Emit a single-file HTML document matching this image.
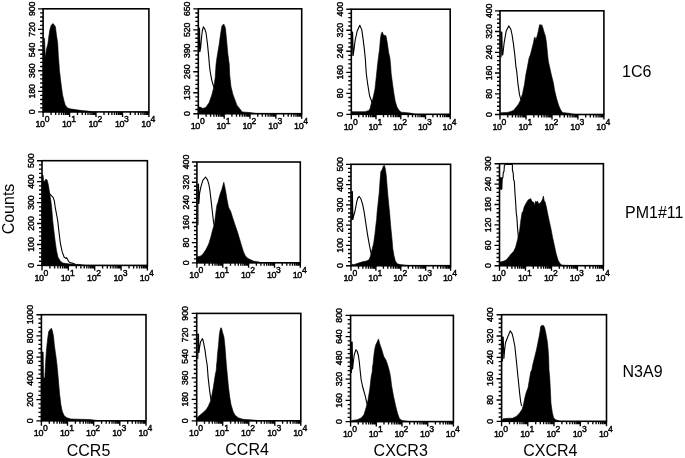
<!DOCTYPE html><html><head><meta charset="utf-8"><style>html,body{margin:0;padding:0;background:#fff;}svg{display:block;filter:blur(0.25px);}text{font-family:"Liberation Sans",Arial,sans-serif;fill:#000;}</style></head><body>
<svg width="685" height="458" viewBox="0 0 685 458">
<g><polygon points="43.1,111.9 43.1,38 44.6,38.5 45.2,58 46.5,49 47.9,43.8 48.8,36.6 49.8,30.1 51.1,25.5 52.8,23.5 54.2,24.8 55.4,26.8 56.4,34.6 57.7,43.2 58.3,55 59.5,70.7 60.6,80 61.6,88 62.6,95 64.3,102 65.3,105.2 67.3,107.8 70,108.8 75,109.6 82,110.6 88,111.1 92,111.9" fill="#000" stroke="#000" stroke-width="0.6" stroke-linejoin="round"/><rect x="43.1" y="8.8" width="105.8" height="103.1" fill="none" stroke="#000" stroke-width="1.6"/><path d="M43.1 111.9h-5M43.1 107.8h-3M43.1 103.7h-3M43.1 99.5h-3M43.1 95.4h-3M43.1 91.3h-5M43.1 87.2h-3M43.1 83h-3M43.1 78.9h-3M43.1 74.8h-3M43.1 70.7h-5M43.1 66.5h-3M43.1 62.4h-3M43.1 58.3h-3M43.1 54.2h-3M43.1 50h-5M43.1 45.9h-3M43.1 41.8h-3M43.1 37.7h-3M43.1 33.5h-3M43.1 29.4h-5M43.1 25.3h-3M43.1 21.2h-3M43.1 17h-3M43.1 12.9h-3M43.1 8.8h-5M43.1 111.9v5M51.1 111.9v3M55.7 111.9v3M59 111.9v3M61.6 111.9v3M63.7 111.9v3M65.5 111.9v3M67 111.9v3M68.3 111.9v3M69.6 111.9v5M77.5 111.9v3M82.2 111.9v3M85.5 111.9v3M88 111.9v3M90.1 111.9v3M91.9 111.9v3M93.4 111.9v3M94.8 111.9v3M96 111.9v5M104 111.9v3M108.6 111.9v3M111.9 111.9v3M114.5 111.9v3M116.6 111.9v3M118.4 111.9v3M119.9 111.9v3M121.2 111.9v3M122.5 111.9v5M130.4 111.9v3M135.1 111.9v3M138.4 111.9v3M140.9 111.9v3M143 111.9v3M144.8 111.9v3M146.3 111.9v3M147.7 111.9v3M148.9 111.9v5" stroke="#000" stroke-width="1.35" fill="none"/><text transform="translate(31.7 111.9) rotate(-90)" x="0" y="3.1" text-anchor="middle" font-size="8.7" stroke="#000" stroke-width="0.42">0</text><text transform="translate(31.7 91.3) rotate(-90)" x="0" y="3.1" text-anchor="middle" font-size="8.7" stroke="#000" stroke-width="0.42">180</text><text transform="translate(31.7 70.7) rotate(-90)" x="0" y="3.1" text-anchor="middle" font-size="8.7" stroke="#000" stroke-width="0.42">360</text><text transform="translate(31.7 50) rotate(-90)" x="0" y="3.1" text-anchor="middle" font-size="8.7" stroke="#000" stroke-width="0.42">540</text><text transform="translate(31.7 29.4) rotate(-90)" x="0" y="3.1" text-anchor="middle" font-size="8.7" stroke="#000" stroke-width="0.42">720</text><text transform="translate(31.7 8.8) rotate(-90)" x="0" y="3.1" text-anchor="middle" font-size="8.7" stroke="#000" stroke-width="0.42">900</text><text x="42.3" y="127.1" font-size="9" text-anchor="middle" letter-spacing="-0.4" stroke="#000" stroke-width="0.42">10<tspan font-size="8.6" dy="-5">0</tspan></text><text x="68.8" y="127.1" font-size="9" text-anchor="middle" letter-spacing="-0.4" stroke="#000" stroke-width="0.42">10<tspan font-size="8.6" dy="-5">1</tspan></text><text x="95.2" y="127.1" font-size="9" text-anchor="middle" letter-spacing="-0.4" stroke="#000" stroke-width="0.42">10<tspan font-size="8.6" dy="-5">2</tspan></text><text x="121.7" y="127.1" font-size="9" text-anchor="middle" letter-spacing="-0.4" stroke="#000" stroke-width="0.42">10<tspan font-size="8.6" dy="-5">3</tspan></text><text x="148.1" y="127.1" font-size="9" text-anchor="middle" letter-spacing="-0.4" stroke="#000" stroke-width="0.42">10<tspan font-size="8.6" dy="-5">4</tspan></text></g>
<g><polygon points="198.3,113.7 198.3,107 200.2,107.1 202.9,108.5 205.9,107.3 209.2,102.6 211.9,94.7 213.9,86.8 215.2,77.7 216,65 216.9,58 219.2,44.3 220.6,33.8 221.9,26 223.8,24 225.4,27.9 226.5,39 227.8,53.5 228.4,58 229.3,65 229.7,75 231,86.8 233,94.7 235,100 236.9,105.2 239.6,108.5 242.2,111.9 250,112.6 258,113.7" fill="#000" stroke="#000" stroke-width="0.6" stroke-linejoin="round"/><polyline points="198.9,52 198.9,28 199.5,28 200,51.5 200.6,48 201.5,38 202.3,31 203.4,26.9 204.8,29 206.1,33.2 207.5,44.3 208.8,57.4 209.4,65 210.1,71.1 211.8,80.3 213.3,85.5 214.3,88" fill="none" stroke="#000" stroke-width="1.1" stroke-linejoin="round"/><rect x="198.3" y="8.8" width="103.4" height="104.9" fill="none" stroke="#000" stroke-width="1.6"/><path d="M198.3 113.7h-5M198.3 109.5h-3M198.3 105.3h-3M198.3 101.1h-3M198.3 96.9h-3M198.3 92.7h-5M198.3 88.5h-3M198.3 84.3h-3M198.3 80.1h-3M198.3 75.9h-3M198.3 71.7h-5M198.3 67.5h-3M198.3 63.3h-3M198.3 59.2h-3M198.3 55h-3M198.3 50.8h-5M198.3 46.6h-3M198.3 42.4h-3M198.3 38.2h-3M198.3 34h-3M198.3 29.8h-5M198.3 25.6h-3M198.3 21.4h-3M198.3 17.2h-3M198.3 13h-3M198.3 8.8h-5M198.3 113.7v5M206.1 113.7v3M210.6 113.7v3M213.9 113.7v3M216.4 113.7v3M218.4 113.7v3M220.1 113.7v3M221.6 113.7v3M223 113.7v3M224.2 113.7v5M231.9 113.7v3M236.5 113.7v3M239.7 113.7v3M242.2 113.7v3M244.3 113.7v3M246 113.7v3M247.5 113.7v3M248.8 113.7v3M250 113.7v5M257.8 113.7v3M262.3 113.7v3M265.6 113.7v3M268.1 113.7v3M270.1 113.7v3M271.8 113.7v3M273.3 113.7v3M274.7 113.7v3M275.9 113.7v5M283.6 113.7v3M288.2 113.7v3M291.4 113.7v3M293.9 113.7v3M296 113.7v3M297.7 113.7v3M299.2 113.7v3M300.5 113.7v3M301.7 113.7v5" stroke="#000" stroke-width="1.35" fill="none"/><text transform="translate(186.9 113.7) rotate(-90)" x="0" y="3.1" text-anchor="middle" font-size="8.7" stroke="#000" stroke-width="0.42">0</text><text transform="translate(186.9 92.7) rotate(-90)" x="0" y="3.1" text-anchor="middle" font-size="8.7" stroke="#000" stroke-width="0.42">130</text><text transform="translate(186.9 71.7) rotate(-90)" x="0" y="3.1" text-anchor="middle" font-size="8.7" stroke="#000" stroke-width="0.42">260</text><text transform="translate(186.9 50.8) rotate(-90)" x="0" y="3.1" text-anchor="middle" font-size="8.7" stroke="#000" stroke-width="0.42">390</text><text transform="translate(186.9 29.8) rotate(-90)" x="0" y="3.1" text-anchor="middle" font-size="8.7" stroke="#000" stroke-width="0.42">520</text><text transform="translate(186.9 8.8) rotate(-90)" x="0" y="3.1" text-anchor="middle" font-size="8.7" stroke="#000" stroke-width="0.42">650</text><text x="197.5" y="128.9" font-size="9" text-anchor="middle" letter-spacing="-0.4" stroke="#000" stroke-width="0.42">10<tspan font-size="8.6" dy="-5">0</tspan></text><text x="223.3" y="128.9" font-size="9" text-anchor="middle" letter-spacing="-0.4" stroke="#000" stroke-width="0.42">10<tspan font-size="8.6" dy="-5">1</tspan></text><text x="249.2" y="128.9" font-size="9" text-anchor="middle" letter-spacing="-0.4" stroke="#000" stroke-width="0.42">10<tspan font-size="8.6" dy="-5">2</tspan></text><text x="275.1" y="128.9" font-size="9" text-anchor="middle" letter-spacing="-0.4" stroke="#000" stroke-width="0.42">10<tspan font-size="8.6" dy="-5">3</tspan></text><text x="300.9" y="128.9" font-size="9" text-anchor="middle" letter-spacing="-0.4" stroke="#000" stroke-width="0.42">10<tspan font-size="8.6" dy="-5">4</tspan></text></g>
<g><polygon points="351.3,114.3 351.3,111.7 365,111.7 369,110.4 370.3,107.8 371.3,103.2 372.9,98.6 374.9,89.5 376.2,77.7 377.5,65 378.6,56 379.5,49.6 380.5,37.8 381.4,33.2 382.3,31.9 383.4,35.1 386,35.8 387.3,43 388.6,52.2 389.9,58 390.6,65 391.2,73.7 392.6,84.2 393.9,93.4 395.2,101.2 396.8,106.5 398.5,109.8 401.1,112.2 410,113 415,114.3" fill="#000" stroke="#000" stroke-width="0.6" stroke-linejoin="round"/><polyline points="351.8,56 351.8,32 352.6,32 353.2,55.4 353.9,50.1 355.2,40 357.2,31 359.8,25.2 361.8,29.9 363.1,39.1 364.4,49.6 365.4,60 366.3,73.7 367.7,84.2 369.6,96 371.6,101.2 372.5,103" fill="none" stroke="#000" stroke-width="1.1" stroke-linejoin="round"/><rect x="351.3" y="9.2" width="98.9" height="105.1" fill="none" stroke="#000" stroke-width="1.6"/><path d="M351.3 114.3h-5M351.3 110.1h-3M351.3 105.9h-3M351.3 101.7h-3M351.3 97.5h-3M351.3 93.3h-5M351.3 89.1h-3M351.3 84.9h-3M351.3 80.7h-3M351.3 76.5h-3M351.3 72.3h-5M351.3 68.1h-3M351.3 63.9h-3M351.3 59.6h-3M351.3 55.4h-3M351.3 51.2h-5M351.3 47h-3M351.3 42.8h-3M351.3 38.6h-3M351.3 34.4h-3M351.3 30.2h-5M351.3 26h-3M351.3 21.8h-3M351.3 17.6h-3M351.3 13.4h-3M351.3 9.2h-5M351.3 114.3v5M358.7 114.3v3M363.1 114.3v3M366.2 114.3v3M368.6 114.3v3M370.5 114.3v3M372.2 114.3v3M373.6 114.3v3M374.9 114.3v3M376 114.3v5M383.5 114.3v3M387.8 114.3v3M390.9 114.3v3M393.3 114.3v3M395.3 114.3v3M396.9 114.3v3M398.4 114.3v3M399.6 114.3v3M400.8 114.3v5M408.2 114.3v3M412.5 114.3v3M415.6 114.3v3M418 114.3v3M420 114.3v3M421.6 114.3v3M423.1 114.3v3M424.3 114.3v3M425.5 114.3v5M432.9 114.3v3M437.3 114.3v3M440.4 114.3v3M442.8 114.3v3M444.7 114.3v3M446.4 114.3v3M447.8 114.3v3M449.1 114.3v3M450.2 114.3v5" stroke="#000" stroke-width="1.35" fill="none"/><text transform="translate(339.9 114.3) rotate(-90)" x="0" y="3.1" text-anchor="middle" font-size="8.7" stroke="#000" stroke-width="0.42">0</text><text transform="translate(339.9 93.3) rotate(-90)" x="0" y="3.1" text-anchor="middle" font-size="8.7" stroke="#000" stroke-width="0.42">80</text><text transform="translate(339.9 72.3) rotate(-90)" x="0" y="3.1" text-anchor="middle" font-size="8.7" stroke="#000" stroke-width="0.42">160</text><text transform="translate(339.9 51.2) rotate(-90)" x="0" y="3.1" text-anchor="middle" font-size="8.7" stroke="#000" stroke-width="0.42">240</text><text transform="translate(339.9 30.2) rotate(-90)" x="0" y="3.1" text-anchor="middle" font-size="8.7" stroke="#000" stroke-width="0.42">320</text><text transform="translate(339.9 9.2) rotate(-90)" x="0" y="3.1" text-anchor="middle" font-size="8.7" stroke="#000" stroke-width="0.42">400</text><text x="350.5" y="129.5" font-size="9" text-anchor="middle" letter-spacing="-0.4" stroke="#000" stroke-width="0.42">10<tspan font-size="8.6" dy="-5">0</tspan></text><text x="375.2" y="129.5" font-size="9" text-anchor="middle" letter-spacing="-0.4" stroke="#000" stroke-width="0.42">10<tspan font-size="8.6" dy="-5">1</tspan></text><text x="399.9" y="129.5" font-size="9" text-anchor="middle" letter-spacing="-0.4" stroke="#000" stroke-width="0.42">10<tspan font-size="8.6" dy="-5">2</tspan></text><text x="424.7" y="129.5" font-size="9" text-anchor="middle" letter-spacing="-0.4" stroke="#000" stroke-width="0.42">10<tspan font-size="8.6" dy="-5">3</tspan></text><text x="449.4" y="129.5" font-size="9" text-anchor="middle" letter-spacing="-0.4" stroke="#000" stroke-width="0.42">10<tspan font-size="8.6" dy="-5">4</tspan></text></g>
<g><polygon points="500,114.5 500.9,112.8 507.5,112.4 510.1,111.7 513.4,110.4 516.7,106.5 518.6,103.9 520.6,100 522.6,93.4 524.5,84.2 525.8,75 527.1,68.5 529.1,58 530.4,54.8 531.7,49.6 533.4,43 534.4,37.8 535,37.1 535.7,39.7 537,36.5 538.3,31.2 539.2,26.6 539.6,24.7 540.6,24.7 540.9,26 541.8,24.7 542.9,27.9 544.2,32.5 545.5,36.5 546.5,43 547.5,53.5 548.3,61 549.4,65.9 551.4,75 553.4,82.9 554.7,90.8 556.6,98.6 558.6,105.2 560.6,109.8 562.5,112.6 570,113.4 575,114.5" fill="#000" stroke="#000" stroke-width="0.6" stroke-linejoin="round"/><polyline points="501,57.4 501,32 501.8,32 502.3,55 502.8,54.7 504.2,42.3 506.2,31.1 508.8,25.9 510.8,29.2 512.1,35 513.4,43.6 514.7,54.1 516,67.2 516.7,71.1 518,84.2 519.5,94.7 520.6,98.6 521.5,100" fill="none" stroke="#000" stroke-width="1.1" stroke-linejoin="round"/><rect x="500" y="10.8" width="103.9" height="103.7" fill="none" stroke="#000" stroke-width="1.6"/><path d="M500 114.5h-5M500 110.4h-3M500 106.2h-3M500 102.1h-3M500 97.9h-3M500 93.8h-5M500 89.6h-3M500 85.5h-3M500 81.3h-3M500 77.2h-3M500 73h-5M500 68.9h-3M500 64.7h-3M500 60.6h-3M500 56.4h-3M500 52.3h-5M500 48.1h-3M500 44h-3M500 39.8h-3M500 35.7h-3M500 31.5h-5M500 27.4h-3M500 23.2h-3M500 19.1h-3M500 14.9h-3M500 10.8h-5M500 114.5v5M507.8 114.5v3M512.4 114.5v3M515.6 114.5v3M518.2 114.5v3M520.2 114.5v3M522 114.5v3M523.5 114.5v3M524.8 114.5v3M526 114.5v5M533.8 114.5v3M538.4 114.5v3M541.6 114.5v3M544.1 114.5v3M546.2 114.5v3M547.9 114.5v3M549.4 114.5v3M550.8 114.5v3M552 114.5v5M559.8 114.5v3M564.3 114.5v3M567.6 114.5v3M570.1 114.5v3M572.2 114.5v3M573.9 114.5v3M575.4 114.5v3M576.7 114.5v3M577.9 114.5v5M585.7 114.5v3M590.3 114.5v3M593.6 114.5v3M596.1 114.5v3M598.1 114.5v3M599.9 114.5v3M601.4 114.5v3M602.7 114.5v3M603.9 114.5v5" stroke="#000" stroke-width="1.35" fill="none"/><text transform="translate(488.6 114.5) rotate(-90)" x="0" y="3.1" text-anchor="middle" font-size="8.7" stroke="#000" stroke-width="0.42">0</text><text transform="translate(488.6 93.8) rotate(-90)" x="0" y="3.1" text-anchor="middle" font-size="8.7" stroke="#000" stroke-width="0.42">80</text><text transform="translate(488.6 73) rotate(-90)" x="0" y="3.1" text-anchor="middle" font-size="8.7" stroke="#000" stroke-width="0.42">160</text><text transform="translate(488.6 52.3) rotate(-90)" x="0" y="3.1" text-anchor="middle" font-size="8.7" stroke="#000" stroke-width="0.42">240</text><text transform="translate(488.6 31.5) rotate(-90)" x="0" y="3.1" text-anchor="middle" font-size="8.7" stroke="#000" stroke-width="0.42">320</text><text transform="translate(488.6 10.8) rotate(-90)" x="0" y="3.1" text-anchor="middle" font-size="8.7" stroke="#000" stroke-width="0.42">400</text><text x="499.2" y="129.7" font-size="9" text-anchor="middle" letter-spacing="-0.4" stroke="#000" stroke-width="0.42">10<tspan font-size="8.6" dy="-5">0</tspan></text><text x="525.2" y="129.7" font-size="9" text-anchor="middle" letter-spacing="-0.4" stroke="#000" stroke-width="0.42">10<tspan font-size="8.6" dy="-5">1</tspan></text><text x="551.2" y="129.7" font-size="9" text-anchor="middle" letter-spacing="-0.4" stroke="#000" stroke-width="0.42">10<tspan font-size="8.6" dy="-5">2</tspan></text><text x="577.1" y="129.7" font-size="9" text-anchor="middle" letter-spacing="-0.4" stroke="#000" stroke-width="0.42">10<tspan font-size="8.6" dy="-5">3</tspan></text><text x="603.1" y="129.7" font-size="9" text-anchor="middle" letter-spacing="-0.4" stroke="#000" stroke-width="0.42">10<tspan font-size="8.6" dy="-5">4</tspan></text></g>
<g><polygon points="42,265.4 42,175 43,175 43.9,182.2 45.2,180.3 46.1,179 47.2,180.3 48.2,184.2 49.1,189.5 50.1,196 51.1,202.6 51.9,210.4 52.7,220.5 53.9,231 55.2,241.5 56.5,250.6 58,257.2 60.3,261.1 62.9,263.1 69.5,263.9 80,264.6 85,265.4" fill="#000" stroke="#000" stroke-width="0.6" stroke-linejoin="round"/><polyline points="49.5,193.5 51.1,195.4 53.1,197.3 54.4,201.2 55.3,207.8 56.3,213 57.7,220.5 59,232.3 60.3,242.8 62.2,251.9 64.2,257.2 65.5,258.3 66.5,257.6 67.5,259.3 68.5,261.3 70,262.6 74.7,263.7" fill="none" stroke="#000" stroke-width="1.1" stroke-linejoin="round"/><rect x="42" y="160.7" width="105.4" height="104.7" fill="none" stroke="#000" stroke-width="1.6"/><path d="M42 265.4h-5M42 261.2h-3M42 257h-3M42 252.8h-3M42 248.6h-3M42 244.5h-5M42 240.3h-3M42 236.1h-3M42 231.9h-3M42 227.7h-3M42 223.5h-5M42 219.3h-3M42 215.1h-3M42 211h-3M42 206.8h-3M42 202.6h-5M42 198.4h-3M42 194.2h-3M42 190h-3M42 185.8h-3M42 181.6h-5M42 177.5h-3M42 173.3h-3M42 169.1h-3M42 164.9h-3M42 160.7h-5M42 265.4v5M49.9 265.4v3M54.6 265.4v3M57.9 265.4v3M60.4 265.4v3M62.5 265.4v3M64.3 265.4v3M65.8 265.4v3M67.1 265.4v3M68.3 265.4v5M76.3 265.4v3M80.9 265.4v3M84.2 265.4v3M86.8 265.4v3M88.9 265.4v3M90.6 265.4v3M92.1 265.4v3M93.5 265.4v3M94.7 265.4v5M102.6 265.4v3M107.3 265.4v3M110.6 265.4v3M113.1 265.4v3M115.2 265.4v3M117 265.4v3M118.5 265.4v3M119.8 265.4v3M121.1 265.4v5M129 265.4v3M133.6 265.4v3M136.9 265.4v3M139.5 265.4v3M141.6 265.4v3M143.3 265.4v3M144.8 265.4v3M146.2 265.4v3M147.4 265.4v5" stroke="#000" stroke-width="1.35" fill="none"/><text transform="translate(30.6 265.4) rotate(-90)" x="0" y="3.1" text-anchor="middle" font-size="8.7" stroke="#000" stroke-width="0.42">0</text><text transform="translate(30.6 244.5) rotate(-90)" x="0" y="3.1" text-anchor="middle" font-size="8.7" stroke="#000" stroke-width="0.42">100</text><text transform="translate(30.6 223.5) rotate(-90)" x="0" y="3.1" text-anchor="middle" font-size="8.7" stroke="#000" stroke-width="0.42">200</text><text transform="translate(30.6 202.6) rotate(-90)" x="0" y="3.1" text-anchor="middle" font-size="8.7" stroke="#000" stroke-width="0.42">300</text><text transform="translate(30.6 181.6) rotate(-90)" x="0" y="3.1" text-anchor="middle" font-size="8.7" stroke="#000" stroke-width="0.42">400</text><text transform="translate(30.6 160.7) rotate(-90)" x="0" y="3.1" text-anchor="middle" font-size="8.7" stroke="#000" stroke-width="0.42">500</text><text x="41.2" y="280.6" font-size="9" text-anchor="middle" letter-spacing="-0.4" stroke="#000" stroke-width="0.42">10<tspan font-size="8.6" dy="-5">0</tspan></text><text x="67.5" y="280.6" font-size="9" text-anchor="middle" letter-spacing="-0.4" stroke="#000" stroke-width="0.42">10<tspan font-size="8.6" dy="-5">1</tspan></text><text x="93.9" y="280.6" font-size="9" text-anchor="middle" letter-spacing="-0.4" stroke="#000" stroke-width="0.42">10<tspan font-size="8.6" dy="-5">2</tspan></text><text x="120.3" y="280.6" font-size="9" text-anchor="middle" letter-spacing="-0.4" stroke="#000" stroke-width="0.42">10<tspan font-size="8.6" dy="-5">3</tspan></text><text x="146.6" y="280.6" font-size="9" text-anchor="middle" letter-spacing="-0.4" stroke="#000" stroke-width="0.42">10<tspan font-size="8.6" dy="-5">4</tspan></text></g>
<g><polygon points="196.9,262.8 196.9,257 198.9,256.5 200.9,255.9 203.5,253.2 206.1,249.3 208.7,244.1 210.7,237.5 212.7,229.7 214.6,223.1 215.9,212 216.9,205.2 217.9,202.6 219.2,197.3 220.5,192.7 221.8,189.5 222.9,185.5 223.8,182.2 224.7,186.2 225.8,192.1 227.1,199.9 228.4,206.5 229.7,210 230.4,210.4 232.3,216.6 234.9,224.4 237.6,232.3 239.5,238.8 241.5,245.4 243.5,251.9 245.4,255.9 248,258.5 250.7,259.8 253.8,261.2 258,261.8 262,262.8" fill="#000" stroke="#000" stroke-width="0.6" stroke-linejoin="round"/><polyline points="197.9,225 197.9,184 198.5,184 198.9,203.5 199.6,193.4 200.9,186.8 202.8,180.3 205.5,177 207.4,179.6 208.7,183.6 209.8,189.5 210.7,197.3 211.6,205.2 212.4,212 212.9,216.6 213.7,223.1 214.2,225" fill="none" stroke="#000" stroke-width="1.1" stroke-linejoin="round"/><rect x="196.9" y="162" width="103.4" height="100.8" fill="none" stroke="#000" stroke-width="1.6"/><path d="M196.9 262.8h-5M196.9 258.8h-3M196.9 254.7h-3M196.9 250.7h-3M196.9 246.7h-3M196.9 242.6h-5M196.9 238.6h-3M196.9 234.6h-3M196.9 230.5h-3M196.9 226.5h-3M196.9 222.5h-5M196.9 218.4h-3M196.9 214.4h-3M196.9 210.4h-3M196.9 206.4h-3M196.9 202.3h-5M196.9 198.3h-3M196.9 194.3h-3M196.9 190.2h-3M196.9 186.2h-3M196.9 182.2h-5M196.9 178.1h-3M196.9 174.1h-3M196.9 170.1h-3M196.9 166h-3M196.9 162h-5M196.9 262.8v5M204.7 262.8v3M209.2 262.8v3M212.5 262.8v3M215 262.8v3M217 262.8v3M218.7 262.8v3M220.2 262.8v3M221.6 262.8v3M222.8 262.8v5M230.5 262.8v3M235.1 262.8v3M238.3 262.8v3M240.8 262.8v3M242.9 262.8v3M244.6 262.8v3M246.1 262.8v3M247.4 262.8v3M248.6 262.8v5M256.4 262.8v3M260.9 262.8v3M264.2 262.8v3M266.7 262.8v3M268.7 262.8v3M270.4 262.8v3M271.9 262.8v3M273.3 262.8v3M274.5 262.8v5M282.2 262.8v3M286.8 262.8v3M290 262.8v3M292.5 262.8v3M294.6 262.8v3M296.3 262.8v3M297.8 262.8v3M299.1 262.8v3M300.3 262.8v5" stroke="#000" stroke-width="1.35" fill="none"/><text transform="translate(185.5 262.8) rotate(-90)" x="0" y="3.1" text-anchor="middle" font-size="8.7" stroke="#000" stroke-width="0.42">0</text><text transform="translate(185.5 242.6) rotate(-90)" x="0" y="3.1" text-anchor="middle" font-size="8.7" stroke="#000" stroke-width="0.42">80</text><text transform="translate(185.5 222.5) rotate(-90)" x="0" y="3.1" text-anchor="middle" font-size="8.7" stroke="#000" stroke-width="0.42">160</text><text transform="translate(185.5 202.3) rotate(-90)" x="0" y="3.1" text-anchor="middle" font-size="8.7" stroke="#000" stroke-width="0.42">240</text><text transform="translate(185.5 182.2) rotate(-90)" x="0" y="3.1" text-anchor="middle" font-size="8.7" stroke="#000" stroke-width="0.42">320</text><text transform="translate(185.5 162) rotate(-90)" x="0" y="3.1" text-anchor="middle" font-size="8.7" stroke="#000" stroke-width="0.42">400</text><text x="196.1" y="278" font-size="9" text-anchor="middle" letter-spacing="-0.4" stroke="#000" stroke-width="0.42">10<tspan font-size="8.6" dy="-5">0</tspan></text><text x="221.9" y="278" font-size="9" text-anchor="middle" letter-spacing="-0.4" stroke="#000" stroke-width="0.42">10<tspan font-size="8.6" dy="-5">1</tspan></text><text x="247.8" y="278" font-size="9" text-anchor="middle" letter-spacing="-0.4" stroke="#000" stroke-width="0.42">10<tspan font-size="8.6" dy="-5">2</tspan></text><text x="273.7" y="278" font-size="9" text-anchor="middle" letter-spacing="-0.4" stroke="#000" stroke-width="0.42">10<tspan font-size="8.6" dy="-5">3</tspan></text><text x="299.5" y="278" font-size="9" text-anchor="middle" letter-spacing="-0.4" stroke="#000" stroke-width="0.42">10<tspan font-size="8.6" dy="-5">4</tspan></text></g>
<g><polygon points="351,265.7 351.9,264.4 354.6,264.4 358.5,263.1 362.4,261.8 366.3,261.1 369,259.8 370.3,256.6 371.6,251.3 373.6,243.5 374.9,234.3 376.2,222.5 376.6,220 377.1,212.4 378.1,203.2 379.2,192.8 380.1,179.7 380.8,171.8 382.3,169.2 383.4,165.9 384.4,165.2 385.4,169.2 386.3,175.7 387.1,186.2 388,196.7 388.9,205.9 389.7,213.7 390.2,220 390.6,225.1 391.9,238.2 392.8,248.7 393.9,255.2 395.2,260.5 397.1,263.8 400.4,264.6 410,265.7" fill="#000" stroke="#000" stroke-width="0.6" stroke-linejoin="round"/><polyline points="351.8,220 351.8,191.5 352.4,191.5 352.9,219.4 353.9,215 354.9,211.5 356.8,201.6 357.8,198 359.3,196.5 361.1,199.3 362.7,204.6 364,211.1 365,217.7 365.7,222.5 367.7,235.6 369.6,246.1 370.9,252.6 371.5,254" fill="none" stroke="#000" stroke-width="1.1" stroke-linejoin="round"/><rect x="351" y="164.3" width="99.6" height="101.4" fill="none" stroke="#000" stroke-width="1.6"/><path d="M351 265.7h-5M351 261.6h-3M351 257.6h-3M351 253.5h-3M351 249.5h-3M351 245.4h-5M351 241.4h-3M351 237.3h-3M351 233.3h-3M351 229.2h-3M351 225.1h-5M351 221.1h-3M351 217h-3M351 213h-3M351 208.9h-3M351 204.9h-5M351 200.8h-3M351 196.7h-3M351 192.7h-3M351 188.6h-3M351 184.6h-5M351 180.5h-3M351 176.5h-3M351 172.4h-3M351 168.4h-3M351 164.3h-5M351 265.7v5M358.5 265.7v3M362.9 265.7v3M366 265.7v3M368.4 265.7v3M370.4 265.7v3M372 265.7v3M373.5 265.7v3M374.8 265.7v3M375.9 265.7v5M383.4 265.7v3M387.8 265.7v3M390.9 265.7v3M393.3 265.7v3M395.3 265.7v3M396.9 265.7v3M398.4 265.7v3M399.7 265.7v3M400.8 265.7v5M408.3 265.7v3M412.7 265.7v3M415.8 265.7v3M418.2 265.7v3M420.2 265.7v3M421.8 265.7v3M423.3 265.7v3M424.6 265.7v3M425.7 265.7v5M433.2 265.7v3M437.6 265.7v3M440.7 265.7v3M443.1 265.7v3M445.1 265.7v3M446.7 265.7v3M448.2 265.7v3M449.5 265.7v3M450.6 265.7v5" stroke="#000" stroke-width="1.35" fill="none"/><text transform="translate(339.6 265.7) rotate(-90)" x="0" y="3.1" text-anchor="middle" font-size="8.7" stroke="#000" stroke-width="0.42">0</text><text transform="translate(339.6 245.4) rotate(-90)" x="0" y="3.1" text-anchor="middle" font-size="8.7" stroke="#000" stroke-width="0.42">100</text><text transform="translate(339.6 225.1) rotate(-90)" x="0" y="3.1" text-anchor="middle" font-size="8.7" stroke="#000" stroke-width="0.42">200</text><text transform="translate(339.6 204.9) rotate(-90)" x="0" y="3.1" text-anchor="middle" font-size="8.7" stroke="#000" stroke-width="0.42">300</text><text transform="translate(339.6 184.6) rotate(-90)" x="0" y="3.1" text-anchor="middle" font-size="8.7" stroke="#000" stroke-width="0.42">400</text><text transform="translate(339.6 164.3) rotate(-90)" x="0" y="3.1" text-anchor="middle" font-size="8.7" stroke="#000" stroke-width="0.42">500</text><text x="350.2" y="280.9" font-size="9" text-anchor="middle" letter-spacing="-0.4" stroke="#000" stroke-width="0.42">10<tspan font-size="8.6" dy="-5">0</tspan></text><text x="375.1" y="280.9" font-size="9" text-anchor="middle" letter-spacing="-0.4" stroke="#000" stroke-width="0.42">10<tspan font-size="8.6" dy="-5">1</tspan></text><text x="400" y="280.9" font-size="9" text-anchor="middle" letter-spacing="-0.4" stroke="#000" stroke-width="0.42">10<tspan font-size="8.6" dy="-5">2</tspan></text><text x="424.9" y="280.9" font-size="9" text-anchor="middle" letter-spacing="-0.4" stroke="#000" stroke-width="0.42">10<tspan font-size="8.6" dy="-5">3</tspan></text><text x="449.8" y="280.9" font-size="9" text-anchor="middle" letter-spacing="-0.4" stroke="#000" stroke-width="0.42">10<tspan font-size="8.6" dy="-5">4</tspan></text></g>
<g><polygon points="499.5,265.7 499.5,262 501.2,261.8 503.9,261.1 506.5,259.8 509.1,256.5 511.1,253.9 513.7,251.3 515.6,247.3 517.6,239.5 519.6,230.3 520.9,219.9 522.2,212 522.8,212.4 524.1,207.1 526.1,203.2 528.1,199.9 529.4,199.3 530.7,198.6 531.6,200.6 532.6,201.9 534,202.6 534.6,205.8 535.5,201.2 536.6,201.9 537.6,201.2 538.5,203.8 539.8,203.2 541.2,201.9 542.5,199.3 543.4,196 544.2,200.6 545.1,201.9 546.4,207.1 547.7,213.7 549,219.9 551,229 552.5,236.9 554.2,244.7 556.2,253.9 558.2,260.4 560.1,263.7 562.1,265.2 570,265.7" fill="#000" stroke="#000" stroke-width="0.6" stroke-linejoin="round"/><polygon points="499.5,177.6 502.1,177.6 502.1,189 499.5,189" fill="#000" stroke="#000" stroke-width="0.6" stroke-linejoin="round"/><polyline points="501.2,190 501.7,183 502.1,179.1 502.9,177.6 503.3,172.2 504,171.5 504.4,165.3 505.2,164.4 512.4,164.4 512.4,170 513.2,173 513.6,179.8 514.3,181.4 514.7,188.2 515.1,195 515.7,203.2 516.2,212.4 516.9,217.6 517.6,229 518.5,238.2 519,240" fill="none" stroke="#000" stroke-width="1.1" stroke-linejoin="round"/><rect x="499.5" y="163.7" width="103.9" height="102" fill="none" stroke="#000" stroke-width="1.6"/><path d="M499.5 265.7h-5M499.5 261.6h-3M499.5 257.5h-3M499.5 253.5h-3M499.5 249.4h-3M499.5 245.3h-5M499.5 241.2h-3M499.5 237.1h-3M499.5 233.1h-3M499.5 229h-3M499.5 224.9h-5M499.5 220.8h-3M499.5 216.7h-3M499.5 212.7h-3M499.5 208.6h-3M499.5 204.5h-5M499.5 200.4h-3M499.5 196.3h-3M499.5 192.3h-3M499.5 188.2h-3M499.5 184.1h-5M499.5 180h-3M499.5 175.9h-3M499.5 171.9h-3M499.5 167.8h-3M499.5 163.7h-5M499.5 265.7v5M507.3 265.7v3M511.9 265.7v3M515.1 265.7v3M517.7 265.7v3M519.7 265.7v3M521.5 265.7v3M523 265.7v3M524.3 265.7v3M525.5 265.7v5M533.3 265.7v3M537.9 265.7v3M541.1 265.7v3M543.6 265.7v3M545.7 265.7v3M547.4 265.7v3M548.9 265.7v3M550.3 265.7v3M551.5 265.7v5M559.3 265.7v3M563.8 265.7v3M567.1 265.7v3M569.6 265.7v3M571.7 265.7v3M573.4 265.7v3M574.9 265.7v3M576.2 265.7v3M577.4 265.7v5M585.2 265.7v3M589.8 265.7v3M593.1 265.7v3M595.6 265.7v3M597.6 265.7v3M599.4 265.7v3M600.9 265.7v3M602.2 265.7v3M603.4 265.7v5" stroke="#000" stroke-width="1.35" fill="none"/><text transform="translate(488.1 265.7) rotate(-90)" x="0" y="3.1" text-anchor="middle" font-size="8.7" stroke="#000" stroke-width="0.42">0</text><text transform="translate(488.1 245.3) rotate(-90)" x="0" y="3.1" text-anchor="middle" font-size="8.7" stroke="#000" stroke-width="0.42">60</text><text transform="translate(488.1 224.9) rotate(-90)" x="0" y="3.1" text-anchor="middle" font-size="8.7" stroke="#000" stroke-width="0.42">120</text><text transform="translate(488.1 204.5) rotate(-90)" x="0" y="3.1" text-anchor="middle" font-size="8.7" stroke="#000" stroke-width="0.42">180</text><text transform="translate(488.1 184.1) rotate(-90)" x="0" y="3.1" text-anchor="middle" font-size="8.7" stroke="#000" stroke-width="0.42">240</text><text transform="translate(488.1 163.7) rotate(-90)" x="0" y="3.1" text-anchor="middle" font-size="8.7" stroke="#000" stroke-width="0.42">300</text><text x="498.7" y="280.9" font-size="9" text-anchor="middle" letter-spacing="-0.4" stroke="#000" stroke-width="0.42">10<tspan font-size="8.6" dy="-5">0</tspan></text><text x="524.7" y="280.9" font-size="9" text-anchor="middle" letter-spacing="-0.4" stroke="#000" stroke-width="0.42">10<tspan font-size="8.6" dy="-5">1</tspan></text><text x="550.7" y="280.9" font-size="9" text-anchor="middle" letter-spacing="-0.4" stroke="#000" stroke-width="0.42">10<tspan font-size="8.6" dy="-5">2</tspan></text><text x="576.6" y="280.9" font-size="9" text-anchor="middle" letter-spacing="-0.4" stroke="#000" stroke-width="0.42">10<tspan font-size="8.6" dy="-5">3</tspan></text><text x="602.6" y="280.9" font-size="9" text-anchor="middle" letter-spacing="-0.4" stroke="#000" stroke-width="0.42">10<tspan font-size="8.6" dy="-5">4</tspan></text></g>
<g><polygon points="41.4,420.8 41.4,352 43.2,352 43.6,378 44.8,378 45.2,370 45.6,362.4 46.1,354.6 46.9,345.4 47.8,337.5 48.7,331.6 50.5,329 51.5,328.3 52.4,331 53.5,336.2 54.4,345.4 55.3,351.9 56.3,359.1 57,365 57.7,371.9 58.7,383.7 59.6,394.1 60.9,404.6 62.2,411.2 64.2,415.8 66.8,417.7 70.8,419 90,419.6 100,420.8" fill="#000" stroke="#000" stroke-width="0.6" stroke-linejoin="round"/><rect x="41.4" y="314.7" width="104.6" height="106.1" fill="none" stroke="#000" stroke-width="1.6"/><path d="M41.4 420.8h-5M41.4 416.6h-3M41.4 412.3h-3M41.4 408.1h-3M41.4 403.8h-3M41.4 399.6h-5M41.4 395.3h-3M41.4 391.1h-3M41.4 386.8h-3M41.4 382.6h-3M41.4 378.4h-5M41.4 374.1h-3M41.4 369.9h-3M41.4 365.6h-3M41.4 361.4h-3M41.4 357.1h-5M41.4 352.9h-3M41.4 348.7h-3M41.4 344.4h-3M41.4 340.2h-3M41.4 335.9h-5M41.4 331.7h-3M41.4 327.4h-3M41.4 323.2h-3M41.4 318.9h-3M41.4 314.7h-5M41.4 420.8v5M49.3 420.8v3M53.9 420.8v3M57.1 420.8v3M59.7 420.8v3M61.7 420.8v3M63.5 420.8v3M65 420.8v3M66.4 420.8v3M67.5 420.8v5M75.4 420.8v3M80 420.8v3M83.3 420.8v3M85.8 420.8v3M87.9 420.8v3M89.6 420.8v3M91.2 420.8v3M92.5 420.8v3M93.7 420.8v5M101.6 420.8v3M106.2 420.8v3M109.4 420.8v3M112 420.8v3M114 420.8v3M115.8 420.8v3M117.3 420.8v3M118.7 420.8v3M119.8 420.8v5M127.7 420.8v3M132.3 420.8v3M135.6 420.8v3M138.1 420.8v3M140.2 420.8v3M141.9 420.8v3M143.5 420.8v3M144.8 420.8v3M146 420.8v5" stroke="#000" stroke-width="1.35" fill="none"/><text transform="translate(30 420.8) rotate(-90)" x="0" y="3.1" text-anchor="middle" font-size="8.7" stroke="#000" stroke-width="0.42">0</text><text transform="translate(30 399.6) rotate(-90)" x="0" y="3.1" text-anchor="middle" font-size="8.7" stroke="#000" stroke-width="0.42">200</text><text transform="translate(30 378.4) rotate(-90)" x="0" y="3.1" text-anchor="middle" font-size="8.7" stroke="#000" stroke-width="0.42">400</text><text transform="translate(30 357.1) rotate(-90)" x="0" y="3.1" text-anchor="middle" font-size="8.7" stroke="#000" stroke-width="0.42">600</text><text transform="translate(30 335.9) rotate(-90)" x="0" y="3.1" text-anchor="middle" font-size="8.7" stroke="#000" stroke-width="0.42">800</text><text transform="translate(30 314.7) rotate(-90)" x="0" y="3.1" text-anchor="middle" font-size="8.7" stroke="#000" stroke-width="0.42">1000</text><text x="40.6" y="436" font-size="9" text-anchor="middle" letter-spacing="-0.4" stroke="#000" stroke-width="0.42">10<tspan font-size="8.6" dy="-5">0</tspan></text><text x="66.8" y="436" font-size="9" text-anchor="middle" letter-spacing="-0.4" stroke="#000" stroke-width="0.42">10<tspan font-size="8.6" dy="-5">1</tspan></text><text x="92.9" y="436" font-size="9" text-anchor="middle" letter-spacing="-0.4" stroke="#000" stroke-width="0.42">10<tspan font-size="8.6" dy="-5">2</tspan></text><text x="119" y="436" font-size="9" text-anchor="middle" letter-spacing="-0.4" stroke="#000" stroke-width="0.42">10<tspan font-size="8.6" dy="-5">3</tspan></text><text x="145.2" y="436" font-size="9" text-anchor="middle" letter-spacing="-0.4" stroke="#000" stroke-width="0.42">10<tspan font-size="8.6" dy="-5">4</tspan></text></g>
<g><polygon points="196.7,420.8 197.6,417.1 199,415.9 203.1,412.6 206.3,409.4 208.3,406.2 210.4,401.4 211.3,398.1 213.3,387.6 215.3,374.5 216.3,370 216.6,364 216.9,362.4 217.6,353.2 218.6,344.1 219.2,336.2 219.9,331 220.8,327.7 221.6,328.3 222.5,332.3 223.8,336.2 224.5,341.5 225.1,348 225.8,357.2 226.4,365 227.3,374.5 228.4,386.3 229.7,396.8 231,404.6 233,411.2 234.9,415.1 238.2,417.7 242.8,419.3 253,420 260,420.8" fill="#000" stroke="#000" stroke-width="0.6" stroke-linejoin="round"/><polyline points="197.8,359 197.8,334 198.5,334 198.9,352.6 199.6,347 200.6,341.7 201.5,340.5 202.4,338.6 203.2,340.8 204.1,345.4 205.1,350.6 206.1,358.5 207.2,365 208.1,377.1 209.4,388.9 210.7,398.1 211.2,400" fill="none" stroke="#000" stroke-width="1.1" stroke-linejoin="round"/><rect x="196.7" y="313.4" width="104.1" height="107.4" fill="none" stroke="#000" stroke-width="1.6"/><path d="M196.7 420.8h-5M196.7 416.5h-3M196.7 412.2h-3M196.7 407.9h-3M196.7 403.6h-3M196.7 399.3h-5M196.7 395h-3M196.7 390.7h-3M196.7 386.4h-3M196.7 382.1h-3M196.7 377.8h-5M196.7 373.5h-3M196.7 369.2h-3M196.7 365h-3M196.7 360.7h-3M196.7 356.4h-5M196.7 352.1h-3M196.7 347.8h-3M196.7 343.5h-3M196.7 339.2h-3M196.7 334.9h-5M196.7 330.6h-3M196.7 326.3h-3M196.7 322h-3M196.7 317.7h-3M196.7 313.4h-5M196.7 420.8v5M204.5 420.8v3M209.1 420.8v3M212.4 420.8v3M214.9 420.8v3M217 420.8v3M218.7 420.8v3M220.2 420.8v3M221.5 420.8v3M222.7 420.8v5M230.6 420.8v3M235.1 420.8v3M238.4 420.8v3M240.9 420.8v3M243 420.8v3M244.7 420.8v3M246.2 420.8v3M247.6 420.8v3M248.8 420.8v5M256.6 420.8v3M261.2 420.8v3M264.4 420.8v3M266.9 420.8v3M269 420.8v3M270.7 420.8v3M272.3 420.8v3M273.6 420.8v3M274.8 420.8v5M282.6 420.8v3M287.2 420.8v3M290.4 420.8v3M293 420.8v3M295 420.8v3M296.8 420.8v3M298.3 420.8v3M299.6 420.8v3M300.8 420.8v5" stroke="#000" stroke-width="1.35" fill="none"/><text transform="translate(185.3 420.8) rotate(-90)" x="0" y="3.1" text-anchor="middle" font-size="8.7" stroke="#000" stroke-width="0.42">0</text><text transform="translate(185.3 399.3) rotate(-90)" x="0" y="3.1" text-anchor="middle" font-size="8.7" stroke="#000" stroke-width="0.42">180</text><text transform="translate(185.3 377.8) rotate(-90)" x="0" y="3.1" text-anchor="middle" font-size="8.7" stroke="#000" stroke-width="0.42">360</text><text transform="translate(185.3 356.4) rotate(-90)" x="0" y="3.1" text-anchor="middle" font-size="8.7" stroke="#000" stroke-width="0.42">540</text><text transform="translate(185.3 334.9) rotate(-90)" x="0" y="3.1" text-anchor="middle" font-size="8.7" stroke="#000" stroke-width="0.42">720</text><text transform="translate(185.3 313.4) rotate(-90)" x="0" y="3.1" text-anchor="middle" font-size="8.7" stroke="#000" stroke-width="0.42">900</text><text x="195.9" y="436" font-size="9" text-anchor="middle" letter-spacing="-0.4" stroke="#000" stroke-width="0.42">10<tspan font-size="8.6" dy="-5">0</tspan></text><text x="221.9" y="436" font-size="9" text-anchor="middle" letter-spacing="-0.4" stroke="#000" stroke-width="0.42">10<tspan font-size="8.6" dy="-5">1</tspan></text><text x="247.9" y="436" font-size="9" text-anchor="middle" letter-spacing="-0.4" stroke="#000" stroke-width="0.42">10<tspan font-size="8.6" dy="-5">2</tspan></text><text x="274" y="436" font-size="9" text-anchor="middle" letter-spacing="-0.4" stroke="#000" stroke-width="0.42">10<tspan font-size="8.6" dy="-5">3</tspan></text><text x="300" y="436" font-size="9" text-anchor="middle" letter-spacing="-0.4" stroke="#000" stroke-width="0.42">10<tspan font-size="8.6" dy="-5">4</tspan></text></g>
<g><polygon points="350.6,421.6 352.2,420.4 357.5,419.7 361.4,417.8 364,414.5 366,407.9 368,400.1 369.9,388.3 371.2,376.5 372.2,372 372.6,366 373,364.4 373.9,355.2 374.8,348.7 375.8,344.8 377.1,342.1 378.5,338.9 379.8,343.9 381.8,349.7 383.8,356.6 385.7,359.6 387.2,363.5 388.7,368.4 389.7,372.4 390.6,377.3 391.6,385.7 393.5,396.1 395.5,405.3 397.5,413.2 399.4,418.4 402,420.6 410,421.6" fill="#000" stroke="#000" stroke-width="0.6" stroke-linejoin="round"/><polyline points="351.5,373 351.5,342 352.2,342 352.6,369 353.3,362 354.2,355 355.9,349.7 357.3,351.5 358.5,356 359.4,363 360.3,372 361.2,380 362.7,387 365.3,396.1 366.7,402.7 367.2,404" fill="none" stroke="#000" stroke-width="1.1" stroke-linejoin="round"/><rect x="350.6" y="315.4" width="102.8" height="106.2" fill="none" stroke="#000" stroke-width="1.6"/><path d="M350.6 421.6h-5M350.6 417.4h-3M350.6 413.1h-3M350.6 408.9h-3M350.6 404.6h-3M350.6 400.4h-5M350.6 396.1h-3M350.6 391.9h-3M350.6 387.6h-3M350.6 383.4h-3M350.6 379.1h-5M350.6 374.9h-3M350.6 370.6h-3M350.6 366.4h-3M350.6 362.1h-3M350.6 357.9h-5M350.6 353.6h-3M350.6 349.4h-3M350.6 345.1h-3M350.6 340.9h-3M350.6 336.6h-5M350.6 332.4h-3M350.6 328.1h-3M350.6 323.9h-3M350.6 319.6h-3M350.6 315.4h-5M350.6 421.6v5M358.3 421.6v3M362.9 421.6v3M366.1 421.6v3M368.6 421.6v3M370.6 421.6v3M372.3 421.6v3M373.8 421.6v3M375.1 421.6v3M376.3 421.6v5M384 421.6v3M388.6 421.6v3M391.8 421.6v3M394.3 421.6v3M396.3 421.6v3M398 421.6v3M399.5 421.6v3M400.8 421.6v3M402 421.6v5M409.7 421.6v3M414.3 421.6v3M417.5 421.6v3M420 421.6v3M422 421.6v3M423.7 421.6v3M425.2 421.6v3M426.5 421.6v3M427.7 421.6v5M435.4 421.6v3M440 421.6v3M443.2 421.6v3M445.7 421.6v3M447.7 421.6v3M449.4 421.6v3M450.9 421.6v3M452.2 421.6v3M453.4 421.6v5" stroke="#000" stroke-width="1.35" fill="none"/><text transform="translate(339.2 421.6) rotate(-90)" x="0" y="3.1" text-anchor="middle" font-size="8.7" stroke="#000" stroke-width="0.42">0</text><text transform="translate(339.2 400.4) rotate(-90)" x="0" y="3.1" text-anchor="middle" font-size="8.7" stroke="#000" stroke-width="0.42">160</text><text transform="translate(339.2 379.1) rotate(-90)" x="0" y="3.1" text-anchor="middle" font-size="8.7" stroke="#000" stroke-width="0.42">320</text><text transform="translate(339.2 357.9) rotate(-90)" x="0" y="3.1" text-anchor="middle" font-size="8.7" stroke="#000" stroke-width="0.42">480</text><text transform="translate(339.2 336.6) rotate(-90)" x="0" y="3.1" text-anchor="middle" font-size="8.7" stroke="#000" stroke-width="0.42">640</text><text transform="translate(339.2 315.4) rotate(-90)" x="0" y="3.1" text-anchor="middle" font-size="8.7" stroke="#000" stroke-width="0.42">800</text><text x="349.8" y="436.8" font-size="9" text-anchor="middle" letter-spacing="-0.4" stroke="#000" stroke-width="0.42">10<tspan font-size="8.6" dy="-5">0</tspan></text><text x="375.5" y="436.8" font-size="9" text-anchor="middle" letter-spacing="-0.4" stroke="#000" stroke-width="0.42">10<tspan font-size="8.6" dy="-5">1</tspan></text><text x="401.2" y="436.8" font-size="9" text-anchor="middle" letter-spacing="-0.4" stroke="#000" stroke-width="0.42">10<tspan font-size="8.6" dy="-5">2</tspan></text><text x="426.9" y="436.8" font-size="9" text-anchor="middle" letter-spacing="-0.4" stroke="#000" stroke-width="0.42">10<tspan font-size="8.6" dy="-5">3</tspan></text><text x="452.6" y="436.8" font-size="9" text-anchor="middle" letter-spacing="-0.4" stroke="#000" stroke-width="0.42">10<tspan font-size="8.6" dy="-5">4</tspan></text></g>
<g><polygon points="501.6,421.3 503.2,418.7 508.5,418.3 512.4,418.3 516.3,416.4 519.6,413.1 522.2,409.2 523.5,404.6 524.8,398 526.1,392.8 528.1,387.6 529.4,379.7 530.7,371.9 531.8,370 532.7,365 534,359.7 535.3,354.5 536.6,349.3 537.9,342.7 539.2,336.2 540.1,330.9 540.7,326.6 541.6,325.6 543.6,325.6 544.6,327.6 545.4,330.9 546.4,336.2 547.5,342.7 548.1,349.3 548.7,358.4 549,370 549.7,377.1 550.4,390.2 551,403.3 552.3,412.4 553.6,417.7 555.6,419.7 560,421.3" fill="#000" stroke="#000" stroke-width="0.6" stroke-linejoin="round"/><polyline points="502.5,361.4 502.5,337 503.2,337 503.9,358.5 504.6,350 505.5,342.7 507.4,337.8 510.2,330.9 512.1,333.6 513.4,338.8 514.8,346 515.7,354.5 516.7,364 517.7,374.2 518.7,384 519.7,393.9 520.7,402 521.6,406" fill="none" stroke="#000" stroke-width="1.1" stroke-linejoin="round"/><rect x="501.6" y="314.7" width="104.9" height="106.6" fill="none" stroke="#000" stroke-width="1.6"/><path d="M501.6 421.3h-5M501.6 417h-3M501.6 412.8h-3M501.6 408.5h-3M501.6 404.2h-3M501.6 400h-5M501.6 395.7h-3M501.6 391.5h-3M501.6 387.2h-3M501.6 382.9h-3M501.6 378.7h-5M501.6 374.4h-3M501.6 370.1h-3M501.6 365.9h-3M501.6 361.6h-3M501.6 357.3h-5M501.6 353.1h-3M501.6 348.8h-3M501.6 344.5h-3M501.6 340.3h-3M501.6 336h-5M501.6 331.8h-3M501.6 327.5h-3M501.6 323.2h-3M501.6 319h-3M501.6 314.7h-5M501.6 421.3v5M509.5 421.3v3M514.1 421.3v3M517.4 421.3v3M519.9 421.3v3M522 421.3v3M523.8 421.3v3M525.3 421.3v3M526.6 421.3v3M527.8 421.3v5M535.7 421.3v3M540.3 421.3v3M543.6 421.3v3M546.2 421.3v3M548.2 421.3v3M550 421.3v3M551.5 421.3v3M552.9 421.3v3M554 421.3v5M561.9 421.3v3M566.6 421.3v3M569.8 421.3v3M572.4 421.3v3M574.5 421.3v3M576.2 421.3v3M577.7 421.3v3M579.1 421.3v3M580.3 421.3v5M588.2 421.3v3M592.8 421.3v3M596.1 421.3v3M598.6 421.3v3M600.7 421.3v3M602.4 421.3v3M604 421.3v3M605.3 421.3v3M606.5 421.3v5" stroke="#000" stroke-width="1.35" fill="none"/><text transform="translate(490.2 421.3) rotate(-90)" x="0" y="3.1" text-anchor="middle" font-size="8.7" stroke="#000" stroke-width="0.42">0</text><text transform="translate(490.2 400) rotate(-90)" x="0" y="3.1" text-anchor="middle" font-size="8.7" stroke="#000" stroke-width="0.42">80</text><text transform="translate(490.2 378.7) rotate(-90)" x="0" y="3.1" text-anchor="middle" font-size="8.7" stroke="#000" stroke-width="0.42">160</text><text transform="translate(490.2 357.3) rotate(-90)" x="0" y="3.1" text-anchor="middle" font-size="8.7" stroke="#000" stroke-width="0.42">240</text><text transform="translate(490.2 336) rotate(-90)" x="0" y="3.1" text-anchor="middle" font-size="8.7" stroke="#000" stroke-width="0.42">320</text><text transform="translate(490.2 314.7) rotate(-90)" x="0" y="3.1" text-anchor="middle" font-size="8.7" stroke="#000" stroke-width="0.42">400</text><text x="500.8" y="436.5" font-size="9" text-anchor="middle" letter-spacing="-0.4" stroke="#000" stroke-width="0.42">10<tspan font-size="8.6" dy="-5">0</tspan></text><text x="527" y="436.5" font-size="9" text-anchor="middle" letter-spacing="-0.4" stroke="#000" stroke-width="0.42">10<tspan font-size="8.6" dy="-5">1</tspan></text><text x="553.2" y="436.5" font-size="9" text-anchor="middle" letter-spacing="-0.4" stroke="#000" stroke-width="0.42">10<tspan font-size="8.6" dy="-5">2</tspan></text><text x="579.5" y="436.5" font-size="9" text-anchor="middle" letter-spacing="-0.4" stroke="#000" stroke-width="0.42">10<tspan font-size="8.6" dy="-5">3</tspan></text><text x="605.7" y="436.5" font-size="9" text-anchor="middle" letter-spacing="-0.4" stroke="#000" stroke-width="0.42">10<tspan font-size="8.6" dy="-5">4</tspan></text></g>
<text x="622" y="77" font-size="16">1C6</text>
<text x="625" y="218" font-size="16">PM1#11</text>
<text x="622.5" y="376.6" font-size="16">N3A9</text>
<text transform="translate(14 209) rotate(-90)" x="0" y="0" text-anchor="middle" font-size="16">Counts</text>
<text x="88.5" y="455.6" font-size="16" text-anchor="middle">CCR5</text>
<text x="247.1" y="455.2" font-size="16" text-anchor="middle">CCR4</text>
<text x="400.7" y="456.3" font-size="16" text-anchor="middle">CXCR3</text>
<text x="550.4" y="456.3" font-size="16" text-anchor="middle">CXCR4</text>
</svg></body></html>
